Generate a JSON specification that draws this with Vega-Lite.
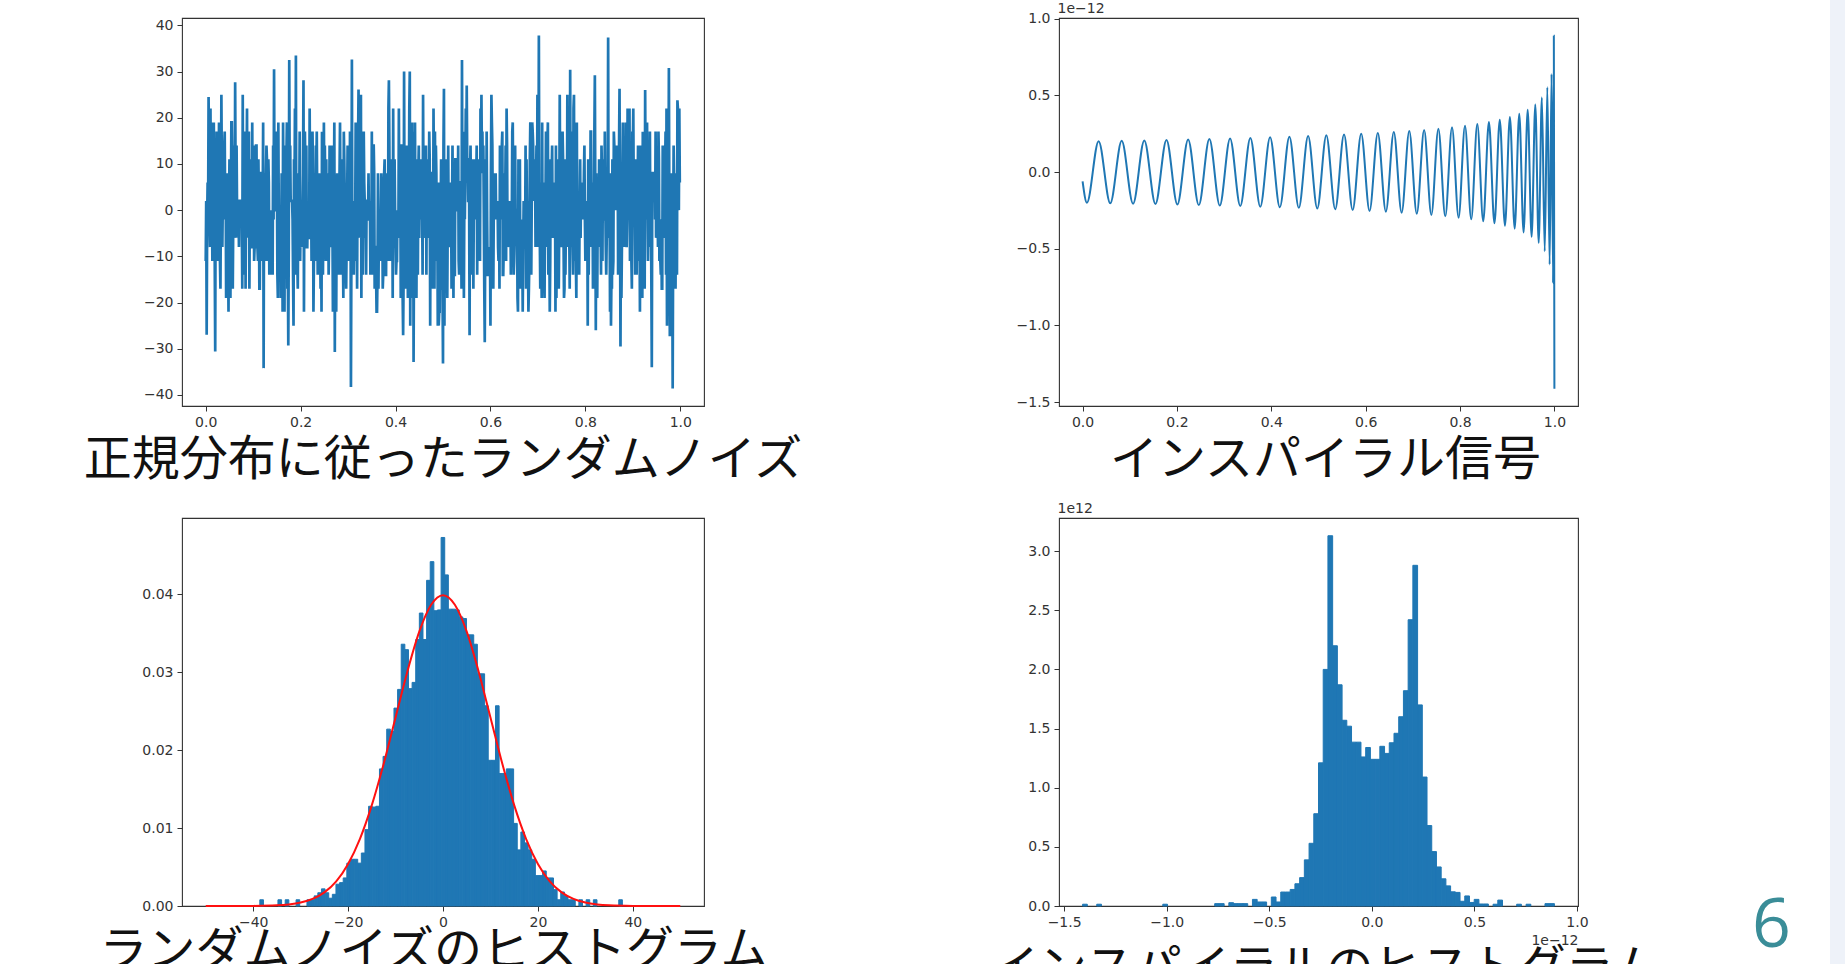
{
"$schema":"https://vega.github.io/schema/vega-lite/v6.json",
"autosize":"none",
"padding":{"left":0,"top":0,"right":1845,"bottom":964},
"background":"white",
"columns":7,
"spacing":0,
"bounds":"flush",
"align":"each",
"config":{
 "font":"DejaVu Sans",
 "view":{"stroke":null},
 "axis":{"labelFont":"DejaVu Sans","labelFontSize":14,"labelColor":"#333","tickColor":"#333","tickSize":5,"tickWidth":1,"domain":false,"grid":false,"labelPadding":4,"titleFont":"DejaVu Sans","titleFontSize":14,"titleFontWeight":"normal","titleColor":"#333"},
 "title":{"font":"Noto Sans CJK JP","fontSize":48,"fontWeight":"normal","color":"#111","orient":"bottom","anchor":"middle","baseline":"alphabetic"}
},
"datasets":{
"noise":[{"t":0,"v":-11},{"t":0.001,"v":2},{"t":0.002,"v":-27},{"t":0.003,"v":-2},{"t":0.004,"v":6},{"t":0.005,"v":-2},{"t":0.006,"v":24.5},{"t":0.007,"v":14},{"t":0.008,"v":-2},{"t":0.009,"v":-8},{"t":0.010,"v":22},{"t":0.011,"v":0},{"t":0.012,"v":19},{"t":0.013,"v":6},{"t":0.014,"v":-11},{"t":0.015,"v":2},{"t":0.016,"v":6},{"t":0.017,"v":19},{"t":0.018,"v":2},{"t":0.019,"v":-11},{"t":0.020,"v":-30.6},{"t":0.021,"v":11},{"t":0.022,"v":-6},{"t":0.023,"v":17},{"t":0.024,"v":6},{"t":0.025,"v":-2},{"t":0.026,"v":-11},{"t":0.027,"v":0},{"t":0.028,"v":19},{"t":0.029,"v":0},{"t":0.030,"v":-11},{"t":0.031,"v":-17},{"t":0.032,"v":2},{"t":0.033,"v":25},{"t":0.034,"v":8},{"t":0.035,"v":-8},{"t":0.036,"v":2},{"t":0.037,"v":8},{"t":0.038,"v":-2},{"t":0.039,"v":14},{"t":0.040,"v":17},{"t":0.041,"v":-2},{"t":0.042,"v":8},{"t":0.043,"v":-19},{"t":0.044,"v":8},{"t":0.045,"v":2},{"t":0.046,"v":8},{"t":0.047,"v":-8},{"t":0.048,"v":-22},{"t":0.049,"v":0},{"t":0.050,"v":11},{"t":0.051,"v":6},{"t":0.052,"v":-19},{"t":0.053,"v":0},{"t":0.054,"v":19},{"t":0.055,"v":19},{"t":0.056,"v":11},{"t":0.057,"v":-17},{"t":0.058,"v":-2},{"t":0.059,"v":-2},{"t":0.060,"v":14},{"t":0.061,"v":-6},{"t":0.062,"v":27.7},{"t":0.063,"v":6},{"t":0.064,"v":-6},{"t":0.065,"v":14},{"t":0.066,"v":0},{"t":0.067,"v":-2},{"t":0.068,"v":2},{"t":0.069,"v":2},{"t":0.070,"v":-8},{"t":0.071,"v":2},{"t":0.072,"v":2},{"t":0.073,"v":-2},{"t":0.074,"v":-2},{"t":0.075,"v":0},{"t":0.076,"v":-2},{"t":0.077,"v":-17},{"t":0.078,"v":25},{"t":0.079,"v":-6},{"t":0.080,"v":14},{"t":0.081,"v":-14},{"t":0.082,"v":2},{"t":0.083,"v":17},{"t":0.084,"v":-17},{"t":0.085,"v":8},{"t":0.086,"v":8},{"t":0.087,"v":22},{"t":0.088,"v":-6},{"t":0.089,"v":14},{"t":0.090,"v":-6},{"t":0.091,"v":17},{"t":0.092,"v":-17},{"t":0.093,"v":2},{"t":0.094,"v":-2},{"t":0.095,"v":11},{"t":0.096,"v":-8},{"t":0.097,"v":-8},{"t":0.098,"v":19},{"t":0.099,"v":-2},{"t":0.100,"v":2},{"t":0.101,"v":14},{"t":0.102,"v":-11},{"t":0.103,"v":-8},{"t":0.104,"v":-2},{"t":0.105,"v":6},{"t":0.106,"v":14},{"t":0.107,"v":14},{"t":0.108,"v":-8},{"t":0.109,"v":-8},{"t":0.110,"v":-11},{"t":0.111,"v":11},{"t":0.112,"v":2},{"t":0.113,"v":-17},{"t":0.114,"v":-17},{"t":0.115,"v":8},{"t":0.116,"v":8},{"t":0.117,"v":-11},{"t":0.118,"v":6},{"t":0.119,"v":8},{"t":0.120,"v":0},{"t":0.121,"v":19},{"t":0.122,"v":-34.2},{"t":0.123,"v":8},{"t":0.124,"v":-2},{"t":0.125,"v":-11},{"t":0.126,"v":-8},{"t":0.127,"v":8},{"t":0.128,"v":14},{"t":0.129,"v":11},{"t":0.130,"v":-11},{"t":0.131,"v":0},{"t":0.132,"v":11},{"t":0.133,"v":6},{"t":0.134,"v":-14},{"t":0.135,"v":0},{"t":0.136,"v":-14},{"t":0.137,"v":-8},{"t":0.138,"v":0},{"t":0.139,"v":-14},{"t":0.140,"v":-2},{"t":0.141,"v":-14},{"t":0.142,"v":14},{"t":0.143,"v":-2},{"t":0.144,"v":30.5},{"t":0.145,"v":2},{"t":0.146,"v":0},{"t":0.147,"v":0},{"t":0.148,"v":2},{"t":0.149,"v":17},{"t":0.150,"v":8},{"t":0.151,"v":-14},{"t":0.152,"v":-19},{"t":0.153,"v":19},{"t":0.154,"v":-2},{"t":0.155,"v":-2},{"t":0.156,"v":0},{"t":0.157,"v":0},{"t":0.158,"v":-19},{"t":0.159,"v":-8},{"t":0.160,"v":8},{"t":0.161,"v":2},{"t":0.162,"v":-22},{"t":0.163,"v":19},{"t":0.164,"v":0},{"t":0.165,"v":-19},{"t":0.166,"v":-22},{"t":0.167,"v":14},{"t":0.168,"v":8},{"t":0.169,"v":11},{"t":0.170,"v":11},{"t":0.171,"v":19},{"t":0.172,"v":-17},{"t":0.173,"v":-11},{"t":0.174,"v":-29.3},{"t":0.175,"v":-8},{"t":0.176,"v":32.5},{"t":0.177,"v":6},{"t":0.178,"v":14},{"t":0.179,"v":2},{"t":0.180,"v":2},{"t":0.181,"v":2},{"t":0.182,"v":2},{"t":0.183,"v":-2},{"t":0.184,"v":-14},{"t":0.185,"v":-25},{"t":0.186,"v":11},{"t":0.187,"v":2},{"t":0.188,"v":22},{"t":0.189,"v":-6},{"t":0.190,"v":33.5},{"t":0.191,"v":-14},{"t":0.192,"v":8},{"t":0.193,"v":-11},{"t":0.194,"v":-17},{"t":0.195,"v":2},{"t":0.196,"v":0},{"t":0.197,"v":0},{"t":0.198,"v":17},{"t":0.199,"v":-11},{"t":0.200,"v":-2},{"t":0.201,"v":-8},{"t":0.202,"v":2},{"t":0.203,"v":0},{"t":0.204,"v":0},{"t":0.205,"v":8},{"t":0.206,"v":28.1},{"t":0.207,"v":-22},{"t":0.208,"v":8},{"t":0.209,"v":17},{"t":0.210,"v":8},{"t":0.211,"v":0},{"t":0.212,"v":14},{"t":0.213,"v":-8},{"t":0.214,"v":-8},{"t":0.215,"v":0},{"t":0.216,"v":-2},{"t":0.217,"v":-6},{"t":0.218,"v":-6},{"t":0.219,"v":22},{"t":0.220,"v":2},{"t":0.221,"v":-2},{"t":0.222,"v":6},{"t":0.223,"v":-11},{"t":0.224,"v":6},{"t":0.225,"v":17},{"t":0.226,"v":8},{"t":0.227,"v":-22},{"t":0.228,"v":-11},{"t":0.229,"v":8},{"t":0.230,"v":2},{"t":0.231,"v":-11},{"t":0.232,"v":14},{"t":0.233,"v":8},{"t":0.234,"v":17},{"t":0.235,"v":2},{"t":0.236,"v":-14},{"t":0.237,"v":2},{"t":0.238,"v":6},{"t":0.239,"v":8},{"t":0.240,"v":0},{"t":0.241,"v":-6},{"t":0.242,"v":-17},{"t":0.243,"v":-2},{"t":0.244,"v":-22},{"t":0.245,"v":17},{"t":0.246,"v":0},{"t":0.247,"v":-14},{"t":0.248,"v":2},{"t":0.249,"v":19},{"t":0.250,"v":0},{"t":0.251,"v":14},{"t":0.252,"v":2},{"t":0.253,"v":-11},{"t":0.254,"v":11},{"t":0.255,"v":-11},{"t":0.256,"v":8},{"t":0.257,"v":0},{"t":0.258,"v":6},{"t":0.259,"v":-14},{"t":0.260,"v":-6},{"t":0.261,"v":14},{"t":0.262,"v":-8},{"t":0.263,"v":-6},{"t":0.264,"v":-6},{"t":0.265,"v":-2},{"t":0.266,"v":14},{"t":0.267,"v":-2},{"t":0.268,"v":-22},{"t":0.269,"v":6},{"t":0.270,"v":0},{"t":0.271,"v":19},{"t":0.272,"v":-30.7},{"t":0.273,"v":2},{"t":0.274,"v":-2},{"t":0.275,"v":-22},{"t":0.276,"v":2},{"t":0.277,"v":8},{"t":0.278,"v":2},{"t":0.279,"v":-11},{"t":0.280,"v":-14},{"t":0.281,"v":-2},{"t":0.282,"v":8},{"t":0.283,"v":19},{"t":0.284,"v":0},{"t":0.285,"v":-14},{"t":0.286,"v":-6},{"t":0.287,"v":11},{"t":0.288,"v":-2},{"t":0.289,"v":-8},{"t":0.290,"v":-19},{"t":0.291,"v":17},{"t":0.292,"v":11},{"t":0.293,"v":2},{"t":0.294,"v":-11},{"t":0.295,"v":-11},{"t":0.296,"v":-17},{"t":0.297,"v":-6},{"t":0.298,"v":2},{"t":0.299,"v":14},{"t":0.300,"v":0},{"t":0.301,"v":-11},{"t":0.302,"v":0},{"t":0.303,"v":-8},{"t":0.304,"v":17},{"t":0.305,"v":11},{"t":0.306,"v":-38.3},{"t":0.307,"v":-8},{"t":0.308,"v":32.6},{"t":0.309,"v":-11},{"t":0.310,"v":-8},{"t":0.311,"v":-8},{"t":0.312,"v":-14},{"t":0.313,"v":0},{"t":0.314,"v":2},{"t":0.315,"v":-2},{"t":0.316,"v":19},{"t":0.317,"v":-11},{"t":0.318,"v":-2},{"t":0.319,"v":-17},{"t":0.320,"v":8},{"t":0.321,"v":14},{"t":0.322,"v":26.1},{"t":0.323,"v":8},{"t":0.324,"v":-6},{"t":0.325,"v":11},{"t":0.326,"v":0},{"t":0.327,"v":25},{"t":0.328,"v":-19},{"t":0.329,"v":11},{"t":0.330,"v":17},{"t":0.331,"v":-14},{"t":0.332,"v":2},{"t":0.333,"v":17},{"t":0.334,"v":6},{"t":0.335,"v":2},{"t":0.336,"v":-6},{"t":0.337,"v":0},{"t":0.338,"v":-14},{"t":0.339,"v":2},{"t":0.340,"v":2},{"t":0.341,"v":2},{"t":0.342,"v":-2},{"t":0.343,"v":8},{"t":0.344,"v":-2},{"t":0.345,"v":-2},{"t":0.346,"v":2},{"t":0.347,"v":-14},{"t":0.348,"v":0},{"t":0.349,"v":-11},{"t":0.350,"v":17},{"t":0.351,"v":-14},{"t":0.352,"v":6},{"t":0.353,"v":14},{"t":0.354,"v":14},{"t":0.355,"v":8},{"t":0.356,"v":-17},{"t":0.357,"v":-8},{"t":0.358,"v":-8},{"t":0.359,"v":-14},{"t":0.360,"v":-22},{"t":0.361,"v":-22},{"t":0.362,"v":-14},{"t":0.363,"v":8},{"t":0.364,"v":-17},{"t":0.365,"v":-2},{"t":0.366,"v":-2},{"t":0.367,"v":-2},{"t":0.368,"v":-11},{"t":0.369,"v":0},{"t":0.370,"v":8},{"t":0.371,"v":2},{"t":0.372,"v":2},{"t":0.373,"v":-17},{"t":0.374,"v":-14},{"t":0.375,"v":0},{"t":0.376,"v":8},{"t":0.377,"v":11},{"t":0.378,"v":-6},{"t":0.379,"v":-14},{"t":0.380,"v":-14},{"t":0.381,"v":2},{"t":0.382,"v":8},{"t":0.383,"v":0},{"t":0.384,"v":-11},{"t":0.385,"v":22},{"t":0.386,"v":28.1},{"t":0.387,"v":14},{"t":0.388,"v":-8},{"t":0.389,"v":-11},{"t":0.390,"v":11},{"t":0.391,"v":2},{"t":0.392,"v":-8},{"t":0.393,"v":6},{"t":0.394,"v":-19},{"t":0.395,"v":22},{"t":0.396,"v":-8},{"t":0.397,"v":-2},{"t":0.398,"v":11},{"t":0.399,"v":0},{"t":0.400,"v":-8},{"t":0.401,"v":-14},{"t":0.402,"v":-11},{"t":0.403,"v":-11},{"t":0.404,"v":0},{"t":0.405,"v":-2},{"t":0.406,"v":-6},{"t":0.407,"v":22},{"t":0.408,"v":0},{"t":0.409,"v":11},{"t":0.410,"v":8},{"t":0.411,"v":-19},{"t":0.412,"v":14},{"t":0.413,"v":14},{"t":0.414,"v":14},{"t":0.415,"v":-19},{"t":0.416,"v":-27.1},{"t":0.417,"v":-14},{"t":0.418,"v":30},{"t":0.419,"v":-6},{"t":0.420,"v":0},{"t":0.421,"v":-11},{"t":0.422,"v":-17},{"t":0.423,"v":-6},{"t":0.424,"v":14},{"t":0.425,"v":2},{"t":0.426,"v":-19},{"t":0.427,"v":8},{"t":0.428,"v":2},{"t":0.429,"v":22},{"t":0.430,"v":30},{"t":0.431,"v":-25},{"t":0.432,"v":8},{"t":0.433,"v":-6},{"t":0.434,"v":-2},{"t":0.435,"v":19},{"t":0.436,"v":-19},{"t":0.437,"v":17},{"t":0.438,"v":-32.9},{"t":0.439,"v":-6},{"t":0.440,"v":-14},{"t":0.441,"v":19},{"t":0.442,"v":-11},{"t":0.443,"v":-2},{"t":0.444,"v":-19},{"t":0.445,"v":8},{"t":0.446,"v":11},{"t":0.447,"v":-14},{"t":0.448,"v":8},{"t":0.449,"v":14},{"t":0.450,"v":-6},{"t":0.451,"v":6},{"t":0.452,"v":-2},{"t":0.453,"v":11},{"t":0.454,"v":-2},{"t":0.455,"v":0},{"t":0.456,"v":2},{"t":0.457,"v":-14},{"t":0.458,"v":25},{"t":0.459,"v":0},{"t":0.460,"v":-2},{"t":0.461,"v":0},{"t":0.462,"v":6},{"t":0.463,"v":-6},{"t":0.464,"v":14},{"t":0.465,"v":-14},{"t":0.466,"v":11},{"t":0.467,"v":-6},{"t":0.468,"v":-2},{"t":0.469,"v":2},{"t":0.470,"v":0},{"t":0.471,"v":17},{"t":0.472,"v":11},{"t":0.473,"v":-25},{"t":0.474,"v":8},{"t":0.475,"v":8},{"t":0.476,"v":0},{"t":0.477,"v":8},{"t":0.478,"v":-8},{"t":0.479,"v":-17},{"t":0.480,"v":22},{"t":0.481,"v":6},{"t":0.482,"v":-17},{"t":0.483,"v":17},{"t":0.484,"v":0},{"t":0.485,"v":14},{"t":0.486,"v":8},{"t":0.487,"v":-11},{"t":0.488,"v":0},{"t":0.489,"v":-25},{"t":0.490,"v":6},{"t":0.491,"v":-25},{"t":0.492,"v":-22},{"t":0.493,"v":-22},{"t":0.494,"v":2},{"t":0.495,"v":-2},{"t":0.496,"v":11},{"t":0.497,"v":-6},{"t":0.498,"v":-17},{"t":0.499,"v":-17},{"t":0.500,"v":-33.2},{"t":0.501,"v":14},{"t":0.502,"v":26.3},{"t":0.503,"v":-25},{"t":0.504,"v":11},{"t":0.505,"v":8},{"t":0.506,"v":-8},{"t":0.507,"v":11},{"t":0.508,"v":-2},{"t":0.509,"v":-19},{"t":0.510,"v":-2},{"t":0.511,"v":14},{"t":0.512,"v":-8},{"t":0.513,"v":-2},{"t":0.514,"v":6},{"t":0.515,"v":-2},{"t":0.516,"v":2},{"t":0.517,"v":6},{"t":0.518,"v":-17},{"t":0.519,"v":0},{"t":0.520,"v":14},{"t":0.521,"v":0},{"t":0.522,"v":-19},{"t":0.523,"v":0},{"t":0.524,"v":-14},{"t":0.525,"v":-14},{"t":0.526,"v":11},{"t":0.527,"v":11},{"t":0.528,"v":11},{"t":0.529,"v":8},{"t":0.530,"v":0},{"t":0.531,"v":0},{"t":0.532,"v":14},{"t":0.533,"v":-11},{"t":0.534,"v":-14},{"t":0.535,"v":-2},{"t":0.536,"v":6},{"t":0.537,"v":6},{"t":0.538,"v":2},{"t":0.539,"v":-17},{"t":0.540,"v":32.5},{"t":0.541,"v":2},{"t":0.542,"v":-6},{"t":0.543,"v":17},{"t":0.544,"v":-19},{"t":0.545,"v":2},{"t":0.546,"v":-2},{"t":0.547,"v":8},{"t":0.548,"v":22},{"t":0.549,"v":6},{"t":0.550,"v":27},{"t":0.551,"v":11},{"t":0.552,"v":11},{"t":0.553,"v":2},{"t":0.554,"v":2},{"t":0.555,"v":6},{"t":0.556,"v":-27.1},{"t":0.557,"v":8},{"t":0.558,"v":14},{"t":0.559,"v":2},{"t":0.560,"v":-11},{"t":0.561,"v":-14},{"t":0.562,"v":8},{"t":0.563,"v":11},{"t":0.564,"v":-17},{"t":0.565,"v":2},{"t":0.566,"v":-2},{"t":0.567,"v":2},{"t":0.568,"v":11},{"t":0.569,"v":-2},{"t":0.570,"v":6},{"t":0.571,"v":14},{"t":0.572,"v":-14},{"t":0.573,"v":0},{"t":0.574,"v":11},{"t":0.575,"v":0},{"t":0.576,"v":8},{"t":0.577,"v":2},{"t":0.578,"v":-11},{"t":0.579,"v":22},{"t":0.580,"v":8},{"t":0.581,"v":25},{"t":0.582,"v":11},{"t":0.583,"v":17},{"t":0.584,"v":8},{"t":0.585,"v":14},{"t":0.586,"v":0},{"t":0.587,"v":-17},{"t":0.588,"v":-28.6},{"t":0.589,"v":-6},{"t":0.590,"v":11},{"t":0.591,"v":-8},{"t":0.592,"v":17},{"t":0.593,"v":-2},{"t":0.594,"v":-14},{"t":0.595,"v":-14},{"t":0.596,"v":-8},{"t":0.597,"v":-11},{"t":0.598,"v":-11},{"t":0.599,"v":-8},{"t":0.600,"v":-25},{"t":0.601,"v":8},{"t":0.602,"v":25},{"t":0.603,"v":19},{"t":0.604,"v":14},{"t":0.605,"v":-6},{"t":0.606,"v":-17},{"t":0.607,"v":0},{"t":0.608,"v":-2},{"t":0.609,"v":8},{"t":0.610,"v":0},{"t":0.611,"v":8},{"t":0.612,"v":-2},{"t":0.613,"v":2},{"t":0.614,"v":-2},{"t":0.615,"v":2},{"t":0.616,"v":-8},{"t":0.617,"v":-11},{"t":0.618,"v":2},{"t":0.619,"v":-17},{"t":0.620,"v":14},{"t":0.621,"v":11},{"t":0.622,"v":11},{"t":0.623,"v":-2},{"t":0.624,"v":14},{"t":0.625,"v":17},{"t":0.626,"v":-14},{"t":0.627,"v":-14},{"t":0.628,"v":-8},{"t":0.629,"v":-2},{"t":0.630,"v":8},{"t":0.631,"v":2},{"t":0.632,"v":14},{"t":0.633,"v":-11},{"t":0.634,"v":22},{"t":0.635,"v":14},{"t":0.636,"v":-8},{"t":0.637,"v":-2},{"t":0.638,"v":2},{"t":0.639,"v":-8},{"t":0.640,"v":2},{"t":0.641,"v":0},{"t":0.642,"v":0},{"t":0.643,"v":-14},{"t":0.644,"v":-2},{"t":0.645,"v":-2},{"t":0.646,"v":17},{"t":0.647,"v":19},{"t":0.648,"v":0},{"t":0.649,"v":-14},{"t":0.650,"v":-11},{"t":0.651,"v":-6},{"t":0.652,"v":14},{"t":0.653,"v":-2},{"t":0.654,"v":-2},{"t":0.655,"v":0},{"t":0.656,"v":0},{"t":0.657,"v":-19},{"t":0.658,"v":-22},{"t":0.659,"v":11},{"t":0.660,"v":-14},{"t":0.661,"v":2},{"t":0.662,"v":11},{"t":0.663,"v":-17},{"t":0.664,"v":-2},{"t":0.665,"v":-8},{"t":0.666,"v":-6},{"t":0.667,"v":-8},{"t":0.668,"v":-22},{"t":0.669,"v":-8},{"t":0.670,"v":2},{"t":0.671,"v":-2},{"t":0.672,"v":0},{"t":0.673,"v":-8},{"t":0.674,"v":14},{"t":0.675,"v":-17},{"t":0.676,"v":11},{"t":0.677,"v":0},{"t":0.678,"v":2},{"t":0.679,"v":-8},{"t":0.680,"v":-22},{"t":0.681,"v":-17},{"t":0.682,"v":-11},{"t":0.683,"v":11},{"t":0.684,"v":19},{"t":0.685,"v":11},{"t":0.686,"v":-14},{"t":0.687,"v":2},{"t":0.688,"v":19},{"t":0.689,"v":17},{"t":0.690,"v":14},{"t":0.691,"v":2},{"t":0.692,"v":6},{"t":0.693,"v":2},{"t":0.694,"v":11},{"t":0.695,"v":-8},{"t":0.696,"v":6},{"t":0.697,"v":14},{"t":0.698,"v":-2},{"t":0.699,"v":25},{"t":0.700,"v":-8},{"t":0.701,"v":-2},{"t":0.702,"v":37.8},{"t":0.703,"v":0},{"t":0.704,"v":-6},{"t":0.705,"v":-17},{"t":0.706,"v":6},{"t":0.707,"v":-8},{"t":0.708,"v":-19},{"t":0.709,"v":19},{"t":0.710,"v":-17},{"t":0.711,"v":-2},{"t":0.712,"v":6},{"t":0.713,"v":-14},{"t":0.714,"v":-19},{"t":0.715,"v":0},{"t":0.716,"v":2},{"t":0.717,"v":17},{"t":0.718,"v":-8},{"t":0.719,"v":-2},{"t":0.720,"v":14},{"t":0.721,"v":19},{"t":0.722,"v":-14},{"t":0.723,"v":-2},{"t":0.724,"v":-6},{"t":0.725,"v":-22},{"t":0.726,"v":-11},{"t":0.727,"v":11},{"t":0.728,"v":0},{"t":0.729,"v":8},{"t":0.730,"v":14},{"t":0.731,"v":-6},{"t":0.732,"v":0},{"t":0.733,"v":-6},{"t":0.734,"v":0},{"t":0.735,"v":2},{"t":0.736,"v":6},{"t":0.737,"v":-22},{"t":0.738,"v":14},{"t":0.739,"v":-19},{"t":0.740,"v":6},{"t":0.741,"v":11},{"t":0.742,"v":-2},{"t":0.743,"v":-6},{"t":0.744,"v":-17},{"t":0.745,"v":-2},{"t":0.746,"v":25},{"t":0.747,"v":2},{"t":0.748,"v":-8},{"t":0.749,"v":6},{"t":0.750,"v":-8},{"t":0.751,"v":-6},{"t":0.752,"v":17},{"t":0.753,"v":11},{"t":0.754,"v":-6},{"t":0.755,"v":-19},{"t":0.756,"v":-17},{"t":0.757,"v":11},{"t":0.758,"v":-14},{"t":0.759,"v":-2},{"t":0.760,"v":11},{"t":0.761,"v":-8},{"t":0.762,"v":25},{"t":0.763,"v":-2},{"t":0.764,"v":-6},{"t":0.765,"v":2},{"t":0.766,"v":-4},{"t":0.767,"v":-17},{"t":0.768,"v":30.4},{"t":0.769,"v":-8},{"t":0.770,"v":6},{"t":0.771,"v":-8},{"t":0.772,"v":17},{"t":0.773,"v":-8},{"t":0.774,"v":-14},{"t":0.775,"v":22},{"t":0.776,"v":25},{"t":0.777,"v":-11},{"t":0.778,"v":-8},{"t":0.779,"v":19},{"t":0.780,"v":-11},{"t":0.781,"v":-19},{"t":0.782,"v":19},{"t":0.783,"v":-11},{"t":0.784,"v":-14},{"t":0.785,"v":2},{"t":0.786,"v":2},{"t":0.787,"v":-14},{"t":0.788,"v":2},{"t":0.789,"v":11},{"t":0.790,"v":-6},{"t":0.791,"v":6},{"t":0.792,"v":0},{"t":0.793,"v":0},{"t":0.794,"v":0},{"t":0.795,"v":-2},{"t":0.796,"v":0},{"t":0.797,"v":8},{"t":0.798,"v":14},{"t":0.799,"v":-2},{"t":0.800,"v":-11},{"t":0.801,"v":2},{"t":0.802,"v":-8},{"t":0.803,"v":2},{"t":0.804,"v":0},{"t":0.805,"v":-25},{"t":0.806,"v":11},{"t":0.807,"v":-14},{"t":0.808,"v":2},{"t":0.809,"v":-2},{"t":0.810,"v":-6},{"t":0.811,"v":17},{"t":0.812,"v":17},{"t":0.813,"v":-8},{"t":0.814,"v":-2},{"t":0.815,"v":6},{"t":0.816,"v":-17},{"t":0.817,"v":6},{"t":0.818,"v":-2},{"t":0.819,"v":17},{"t":0.820,"v":29.2},{"t":0.821,"v":2},{"t":0.822,"v":-26},{"t":0.823,"v":8},{"t":0.824,"v":-11},{"t":0.825,"v":-19},{"t":0.826,"v":-2},{"t":0.827,"v":-2},{"t":0.828,"v":-6},{"t":0.829,"v":11},{"t":0.830,"v":-8},{"t":0.831,"v":2},{"t":0.832,"v":-2},{"t":0.833,"v":-14},{"t":0.834,"v":14},{"t":0.835,"v":8},{"t":0.836,"v":-11},{"t":0.837,"v":11},{"t":0.838,"v":-2},{"t":0.839,"v":-2},{"t":0.840,"v":-2},{"t":0.841,"v":17},{"t":0.842,"v":2},{"t":0.843,"v":-8},{"t":0.844,"v":-14},{"t":0.845,"v":-6},{"t":0.846,"v":0},{"t":0.847,"v":0},{"t":0.848,"v":37.4},{"t":0.849,"v":-6},{"t":0.850,"v":-2},{"t":0.851,"v":2},{"t":0.852,"v":-22},{"t":0.853,"v":8},{"t":0.854,"v":-25},{"t":0.855,"v":-14},{"t":0.856,"v":-17},{"t":0.857,"v":11},{"t":0.858,"v":-14},{"t":0.859,"v":-11},{"t":0.860,"v":17},{"t":0.861,"v":14},{"t":0.862,"v":6},{"t":0.863,"v":14},{"t":0.864,"v":8},{"t":0.865,"v":0},{"t":0.866,"v":2},{"t":0.867,"v":2},{"t":0.868,"v":14},{"t":0.869,"v":-14},{"t":0.870,"v":11},{"t":0.871,"v":14},{"t":0.872,"v":26.3},{"t":0.873,"v":0},{"t":0.874,"v":-29.5},{"t":0.875,"v":-2},{"t":0.876,"v":-19},{"t":0.877,"v":-8},{"t":0.878,"v":6},{"t":0.879,"v":19},{"t":0.880,"v":0},{"t":0.881,"v":2},{"t":0.882,"v":-8},{"t":0.883,"v":0},{"t":0.884,"v":-8},{"t":0.885,"v":19},{"t":0.886,"v":-2},{"t":0.887,"v":-8},{"t":0.888,"v":-2},{"t":0.889,"v":22},{"t":0.890,"v":11},{"t":0.891,"v":0},{"t":0.892,"v":17},{"t":0.893,"v":22},{"t":0.894,"v":-11},{"t":0.895,"v":-8},{"t":0.896,"v":2},{"t":0.897,"v":-11},{"t":0.898,"v":-17},{"t":0.899,"v":17},{"t":0.900,"v":14},{"t":0.901,"v":22},{"t":0.902,"v":2},{"t":0.903,"v":-2},{"t":0.904,"v":-2},{"t":0.905,"v":-14},{"t":0.906,"v":11},{"t":0.907,"v":-2},{"t":0.908,"v":-14},{"t":0.909,"v":-2},{"t":0.910,"v":2},{"t":0.911,"v":14},{"t":0.912,"v":8},{"t":0.913,"v":-11},{"t":0.914,"v":0},{"t":0.915,"v":-22},{"t":0.916,"v":14},{"t":0.917,"v":0},{"t":0.918,"v":2},{"t":0.919,"v":-8},{"t":0.920,"v":-19},{"t":0.921,"v":17},{"t":0.922,"v":14},{"t":0.923,"v":0},{"t":0.924,"v":6},{"t":0.925,"v":-17},{"t":0.926,"v":26},{"t":0.927,"v":2},{"t":0.928,"v":0},{"t":0.929,"v":-2},{"t":0.930,"v":19},{"t":0.931,"v":0},{"t":0.932,"v":-11},{"t":0.933,"v":0},{"t":0.934,"v":-2},{"t":0.935,"v":-8},{"t":0.936,"v":17},{"t":0.937,"v":-8},{"t":0.938,"v":8},{"t":0.939,"v":-14},{"t":0.940,"v":-34},{"t":0.941,"v":8},{"t":0.942,"v":8},{"t":0.943,"v":2},{"t":0.944,"v":2},{"t":0.945,"v":6},{"t":0.946,"v":8},{"t":0.947,"v":-2},{"t":0.948,"v":17},{"t":0.949,"v":-6},{"t":0.950,"v":0},{"t":0.951,"v":-6},{"t":0.952,"v":8},{"t":0.953,"v":-8},{"t":0.954,"v":17},{"t":0.955,"v":11},{"t":0.956,"v":-11},{"t":0.957,"v":-2},{"t":0.958,"v":-11},{"t":0.959,"v":-14},{"t":0.960,"v":-2},{"t":0.961,"v":-17},{"t":0.962,"v":-17},{"t":0.963,"v":14},{"t":0.964,"v":-2},{"t":0.965,"v":-6},{"t":0.966,"v":-2},{"t":0.967,"v":0},{"t":0.968,"v":8},{"t":0.969,"v":17},{"t":0.970,"v":-14},{"t":0.971,"v":22},{"t":0.972,"v":-25},{"t":0.973,"v":0},{"t":0.974,"v":2},{"t":0.975,"v":-2},{"t":0.976,"v":30.8},{"t":0.977,"v":0},{"t":0.978,"v":-27.3},{"t":0.979,"v":-2},{"t":0.980,"v":8},{"t":0.981,"v":-11},{"t":0.982,"v":-19},{"t":0.983,"v":-8},{"t":0.984,"v":-38.6},{"t":0.985,"v":-6},{"t":0.986,"v":14},{"t":0.987,"v":6},{"t":0.988,"v":0},{"t":0.989,"v":8},{"t":0.990,"v":-17},{"t":0.991,"v":6},{"t":0.992,"v":2},{"t":0.993,"v":-14},{"t":0.994,"v":23.8},{"t":0.995,"v":22},{"t":0.996,"v":2},{"t":0.997,"v":0},{"t":0.998,"v":22},{"t":0.999,"v":6},{"t":1,"v":6}],
"chirp":[{"t":0,"h":-0.06},{"t":0.0092,"h":-0.2},{"t":0.034,"h":0.202},{"t":0.0586,"h":-0.203},{"t":0.0829,"h":0.204},{"t":0.107,"h":-0.206},{"t":0.1308,"h":0.207},{"t":0.1544,"h":-0.208},{"t":0.1778,"h":0.21},{"t":0.2009,"h":-0.211},{"t":0.2237,"h":0.213},{"t":0.2463,"h":-0.215},{"t":0.2687,"h":0.216},{"t":0.2908,"h":-0.218},{"t":0.3126,"h":0.22},{"t":0.3342,"h":-0.221},{"t":0.3556,"h":0.223},{"t":0.3766,"h":-0.225},{"t":0.3974,"h":0.227},{"t":0.418,"h":-0.229},{"t":0.4383,"h":0.231},{"t":0.4583,"h":-0.233},{"t":0.478,"h":0.235},{"t":0.4974,"h":-0.237},{"t":0.5166,"h":0.24},{"t":0.5355,"h":-0.242},{"t":0.5541,"h":0.245},{"t":0.5724,"h":-0.247},{"t":0.5905,"h":0.25},{"t":0.6082,"h":-0.253},{"t":0.6257,"h":0.255},{"t":0.6428,"h":-0.258},{"t":0.6596,"h":0.262},{"t":0.6762,"h":-0.265},{"t":0.6924,"h":0.268},{"t":0.7083,"h":-0.272},{"t":0.7239,"h":0.275},{"t":0.7392,"h":-0.279},{"t":0.7541,"h":0.283},{"t":0.7687,"h":-0.288},{"t":0.783,"h":0.292},{"t":0.7969,"h":-0.297},{"t":0.8105,"h":0.302},{"t":0.8237,"h":-0.308},{"t":0.8366,"h":0.314},{"t":0.8491,"h":-0.32},{"t":0.8612,"h":0.327},{"t":0.8729,"h":-0.334},{"t":0.8842,"h":0.341},{"t":0.8952,"h":-0.35},{"t":0.9057,"h":0.359},{"t":0.9158,"h":-0.369},{"t":0.9255,"h":0.38},{"t":0.9347,"h":-0.393},{"t":0.9434,"h":0.407},{"t":0.9517,"h":-0.422},{"t":0.9595,"h":0.441},{"t":0.9667,"h":-0.461},{"t":0.9734,"h":0.486},{"t":0.9795,"h":-0.516},{"t":0.985,"h":0.554},{"t":0.9899,"h":-0.603},{"t":0.9939,"h":0.64},{"t":0.9972,"h":-0.724},{"t":0.9988,"h":0.89},{"t":1,"h":-1.413}],
"noiseHist":[{"a":-38.6,"b":-37.836,"d":0.0008},{"a":-34.78,"b":-34.016,"d":0.0008},{"a":-33.252,"b":-32.488,"d":0.0008},{"a":-30.96,"b":-30.196,"d":0.0008},{"a":-28.668,"b":-27.904,"d":0.0008},{"a":-27.904,"b":-27.14,"d":0.0008},{"a":-27.14,"b":-26.376,"d":0.0013},{"a":-26.376,"b":-25.612,"d":0.0017},{"a":-25.612,"b":-24.848,"d":0.0022},{"a":-24.848,"b":-24.084,"d":0.0017},{"a":-24.084,"b":-23.32,"d":0.001},{"a":-23.32,"b":-22.556,"d":0.0015},{"a":-22.556,"b":-21.792,"d":0.0028},{"a":-21.792,"b":-21.028,"d":0.003},{"a":-21.028,"b":-20.264,"d":0.0036},{"a":-20.264,"b":-19.5,"d":0.0055},{"a":-19.5,"b":-18.736,"d":0.006},{"a":-18.736,"b":-17.972,"d":0.006},{"a":-17.972,"b":-17.208,"d":0.0055},{"a":-17.208,"b":-16.444,"d":0.0068},{"a":-16.444,"b":-15.68,"d":0.0098},{"a":-15.68,"b":-14.916,"d":0.0128},{"a":-14.916,"b":-14.152,"d":0.0127},{"a":-14.152,"b":-13.388,"d":0.0128},{"a":-13.388,"b":-12.624,"d":0.0176},{"a":-12.624,"b":-11.86,"d":0.0192},{"a":-11.86,"b":-11.096,"d":0.0227},{"a":-11.096,"b":-10.332,"d":0.0224},{"a":-10.332,"b":-9.568,"d":0.0254},{"a":-9.568,"b":-8.804,"d":0.0278},{"a":-8.804,"b":-8.04,"d":0.0336},{"a":-8.04,"b":-7.276,"d":0.0329},{"a":-7.276,"b":-6.512,"d":0.0279},{"a":-6.512,"b":-5.748,"d":0.0287},{"a":-5.748,"b":-4.984,"d":0.0342},{"a":-4.984,"b":-4.22,"d":0.0376},{"a":-4.22,"b":-3.456,"d":0.0342},{"a":-3.456,"b":-2.692,"d":0.0418},{"a":-2.692,"b":-1.928,"d":0.0442},{"a":-1.928,"b":-1.164,"d":0.0379},{"a":-1.164,"b":-0.4,"d":0.038},{"a":-0.4,"b":0.364,"d":0.0473},{"a":0.364,"b":1.128,"d":0.0425},{"a":1.128,"b":1.892,"d":0.0381},{"a":1.892,"b":2.656,"d":0.0381},{"a":2.656,"b":3.42,"d":0.038},{"a":3.42,"b":4.184,"d":0.0371},{"a":4.184,"b":4.948,"d":0.0369},{"a":4.948,"b":5.712,"d":0.0348},{"a":5.712,"b":6.476,"d":0.0348},{"a":6.476,"b":7.24,"d":0.0336},{"a":7.24,"b":8.004,"d":0.0298},{"a":8.004,"b":8.768,"d":0.0298},{"a":8.768,"b":9.532,"d":0.0257},{"a":9.532,"b":10.296,"d":0.0187},{"a":10.296,"b":11.06,"d":0.0187},{"a":11.06,"b":11.824,"d":0.0257},{"a":11.824,"b":12.588,"d":0.017},{"a":12.588,"b":13.352,"d":0.017},{"a":13.352,"b":14.116,"d":0.0176},{"a":14.116,"b":14.88,"d":0.0176},{"a":14.88,"b":15.644,"d":0.0106},{"a":15.644,"b":16.408,"d":0.0072},{"a":16.408,"b":17.172,"d":0.0095},{"a":17.172,"b":17.936,"d":0.0081},{"a":17.936,"b":18.7,"d":0.0072},{"a":18.7,"b":19.464,"d":0.006},{"a":19.464,"b":20.228,"d":0.0039},{"a":20.228,"b":20.992,"d":0.0039},{"a":20.992,"b":21.756,"d":0.0045},{"a":21.756,"b":22.52,"d":0.0036},{"a":22.52,"b":23.284,"d":0.0036},{"a":23.284,"b":24.048,"d":0.0021},{"a":24.048,"b":24.812,"d":0.0008},{"a":24.812,"b":25.576,"d":0.0018},{"a":25.576,"b":26.34,"d":0.0013},{"a":26.34,"b":27.104,"d":0.0008},{"a":27.104,"b":27.868,"d":0.0008},{"a":28.632,"b":29.396,"d":0.0008},{"a":30.16,"b":30.924,"d":0.0008},{"a":31.688,"b":32.452,"d":0.0008},{"a":37.036,"b":37.8,"d":0.0008}],
"normalFit":[{"x":-50,"p":0},{"x":-45,"p":0},{"x":-40,"p":0.0000134},{"x":-35,"p":0.0000873},{"x":-32.5,"p":0.000203},{"x":-30,"p":0.000443},{"x":-27.5,"p":0.000909},{"x":-25,"p":0.00175},{"x":-22.5,"p":0.00317},{"x":-20,"p":0.0054},{"x":-17.5,"p":0.00863},{"x":-15,"p":0.01295},{"x":-12.5,"p":0.01826},{"x":-10,"p":0.0242},{"x":-7.5,"p":0.03011},{"x":-5,"p":0.03521},{"x":-2.5,"p":0.03866},{"x":0,"p":0.03989},{"x":2.5,"p":0.03866},{"x":5,"p":0.03521},{"x":7.5,"p":0.03011},{"x":10,"p":0.0242},{"x":12.5,"p":0.01826},{"x":15,"p":0.01295},{"x":17.5,"p":0.00863},{"x":20,"p":0.0054},{"x":22.5,"p":0.00317},{"x":25,"p":0.00175},{"x":27.5,"p":0.000909},{"x":30,"p":0.000443},{"x":32.5,"p":0.000203},{"x":35,"p":0.0000873},{"x":40,"p":0.0000134},{"x":45,"p":0},{"x":50,"p":0}],
"chirpHist":[{"a":-1.41,"b":-1.387,"d":0.015},{"a":-1.341,"b":-1.318,"d":0.015},{"a":-1.019,"b":-0.996,"d":0.015},{"a":-0.766,"b":-0.743,"d":0.02},{"a":-0.743,"b":-0.72,"d":0.02},{"a":-0.697,"b":-0.674,"d":0.028},{"a":-0.674,"b":-0.651,"d":0.02},{"a":-0.651,"b":-0.628,"d":0.02},{"a":-0.628,"b":-0.605,"d":0.02},{"a":-0.582,"b":-0.559,"d":0.056},{"a":-0.559,"b":-0.536,"d":0.034},{"a":-0.536,"b":-0.513,"d":0.034},{"a":-0.49,"b":-0.467,"d":0.076},{"a":-0.467,"b":-0.444,"d":0.034},{"a":-0.444,"b":-0.421,"d":0.118},{"a":-0.421,"b":-0.398,"d":0.118},{"a":-0.398,"b":-0.375,"d":0.14},{"a":-0.375,"b":-0.352,"d":0.188},{"a":-0.352,"b":-0.329,"d":0.24},{"a":-0.329,"b":-0.306,"d":0.39},{"a":-0.306,"b":-0.283,"d":0.53},{"a":-0.283,"b":-0.26,"d":0.78},{"a":-0.26,"b":-0.237,"d":1.21},{"a":-0.237,"b":-0.214,"d":2.0},{"a":-0.214,"b":-0.191,"d":3.13},{"a":-0.191,"b":-0.168,"d":2.2},{"a":-0.168,"b":-0.145,"d":1.87},{"a":-0.145,"b":-0.122,"d":1.57},{"a":-0.122,"b":-0.099,"d":1.52},{"a":-0.099,"b":-0.076,"d":1.385},{"a":-0.076,"b":-0.053,"d":1.385},{"a":-0.053,"b":-0.03,"d":1.26},{"a":-0.03,"b":-0.007,"d":1.34},{"a":-0.007,"b":0.016,"d":1.24},{"a":0.016,"b":0.039,"d":1.24},{"a":0.039,"b":0.062,"d":1.35},{"a":0.062,"b":0.085,"d":1.29},{"a":0.085,"b":0.108,"d":1.38},{"a":0.108,"b":0.131,"d":1.46},{"a":0.131,"b":0.154,"d":1.6},{"a":0.154,"b":0.177,"d":1.82},{"a":0.177,"b":0.2,"d":2.42},{"a":0.2,"b":0.223,"d":2.88},{"a":0.223,"b":0.246,"d":1.7},{"a":0.246,"b":0.269,"d":1.09},{"a":0.269,"b":0.292,"d":0.68},{"a":0.292,"b":0.315,"d":0.46},{"a":0.315,"b":0.338,"d":0.33},{"a":0.338,"b":0.361,"d":0.23},{"a":0.361,"b":0.384,"d":0.17},{"a":0.384,"b":0.407,"d":0.12},{"a":0.407,"b":0.43,"d":0.115},{"a":0.43,"b":0.453,"d":0.04},{"a":0.453,"b":0.476,"d":0.085},{"a":0.476,"b":0.499,"d":0.03},{"a":0.499,"b":0.522,"d":0.056},{"a":0.522,"b":0.545,"d":0.017},{"a":0.545,"b":0.568,"d":0.017},{"a":0.591,"b":0.614,"d":0.015},{"a":0.614,"b":0.637,"d":0.05},{"a":0.706,"b":0.729,"d":0.015},{"a":0.752,"b":0.775,"d":0.015},{"a":0.844,"b":0.867,"d":0.02},{"a":0.867,"b":0.89,"d":0.02}],
"page":[{"label":"6"}]
},
"concat":[
{"width":182,"height":18,"data":{"values":[]},"mark":"point"},
{"width":522,"height":18,"data":{"values":[]},"mark":"point"},
{"width":355,"height":18,"data":{"values":[]},"mark":"point"},
{"width":519,"height":18,"data":{"values":[]},"mark":"point"},
{"width":135,"height":18,"data":{"values":[]},"mark":"point"},
{"width":117,"height":18,"data":{"values":[]},"mark":"point"},
{"width":15,"height":18,"view":{"fill":"#eef2f9","stroke":null},"data":{"values":[]},"mark":"point"},

{"width":182,"height":388,"data":{"values":[]},"mark":"point"},
{"width":522,"height":388,"view":{"stroke":"#333","strokeWidth":1.1},
 "title":{"text":"正規分布に従ったランダムノイズ","offset":8},
 "data":{"name":"noise"},
 "mark":{"type":"line","color":"#1f77b4","strokeWidth":2.7},
 "encoding":{
  "x":{"field":"t","type":"quantitative","scale":{"domain":[-0.05,1.05],"nice":false,"zero":false},"axis":{"values":[0,0.2,0.4,0.6,0.8,1],"format":".1f","title":null}},
  "y":{"field":"v","type":"quantitative","scale":{"domain":[-42.4,41.6],"nice":false,"zero":false},"axis":{"values":[-40,-30,-20,-10,0,10,20,30,40],"format":"d","title":null}}}},
{"width":355,"height":388,"data":{"values":[]},"mark":"point"},
{"width":519,"height":388,"view":{"stroke":"#333","strokeWidth":1.1},
 "title":{"text":"インスパイラル信号","offset":8,"dx":7},
 "data":{"name":"chirp"},
 "mark":{"type":"line","color":"#1f77b4","strokeWidth":2,"interpolate":"monotone"},
 "encoding":{
  "x":{"field":"t","type":"quantitative","scale":{"domain":[-0.05,1.05],"nice":false,"zero":false},"axis":{"values":[0,0.2,0.4,0.6,0.8,1],"format":".1f","title":null}},
  "y":{"field":"h","type":"quantitative","scale":{"domain":[-1.525,1.005],"nice":false,"zero":false},"axis":{"values":[-1.5,-1,-0.5,0,0.5,1],"format":".1f","title":"1e−12","titleAngle":0,"titleAlign":"left","titleBaseline":"alphabetic","titleX":-2,"titleY":-6}}}},
{"width":135,"height":388,"data":{"values":[]},"mark":"point"},
{"width":117,"height":388,"data":{"values":[]},"mark":"point"},
{"width":15,"height":388,"view":{"fill":"#eef2f9","stroke":null},"data":{"values":[]},"mark":"point"},

{"width":182,"height":112,"data":{"values":[]},"mark":"point"},
{"width":522,"height":112,"data":{"values":[]},"mark":"point"},
{"width":355,"height":112,"data":{"values":[]},"mark":"point"},
{"width":519,"height":112,"data":{"values":[]},"mark":"point"},
{"width":135,"height":112,"data":{"values":[]},"mark":"point"},
{"width":117,"height":112,"data":{"values":[]},"mark":"point"},
{"width":15,"height":112,"view":{"fill":"#eef2f9","stroke":null},"data":{"values":[]},"mark":"point"},

{"width":182,"height":388,"data":{"values":[]},"mark":"point"},
{"width":522,"height":388,"view":{"stroke":"#333","strokeWidth":1.1},
 "title":{"text":"ランダムノイズのヒストグラム","offset":-1,"dx":-9},
 "layer":[
  {"data":{"name":"noiseHist"},
   "mark":{"type":"rect","color":"#1f77b4","stroke":"#1f77b4","strokeWidth":1},
   "encoding":{
    "x":{"field":"a","type":"quantitative","scale":{"domain":[-55,55],"nice":false,"zero":false},"axis":{"values":[-40,-20,0,20,40],"format":"d","title":null}},
    "x2":{"field":"b"},
    "y":{"field":"d","type":"quantitative","scale":{"domain":[0,0.0498],"nice":false,"zero":false},"axis":{"values":[0,0.01,0.02,0.03,0.04],"format":".2f","title":null}},
    "y2":{"datum":0}}},
  {"data":{"name":"normalFit"},
   "mark":{"type":"line","color":"#ff1010","strokeWidth":2,"interpolate":"monotone"},
   "encoding":{
    "x":{"field":"x","type":"quantitative"},
    "y":{"field":"p","type":"quantitative"}}}
 ]},
{"width":355,"height":388,"data":{"values":[]},"mark":"point"},
{"width":519,"height":388,"view":{"stroke":"#333","strokeWidth":1.1},
 "title":{"text":"インスパイラルのヒストグラム","offset":-1,"dx":7},
 "data":{"name":"chirpHist"},
 "mark":{"type":"rect","color":"#1f77b4","stroke":"#1f77b4","strokeWidth":1},
 "encoding":{
  "x":{"field":"a","type":"quantitative","scale":{"domain":[-1.525,1.005],"nice":false,"zero":false},"axis":{"values":[-1.5,-1,-0.5,0,0.5,1],"format":".1f","title":"1e−12","titleAngle":0,"titleAlign":"right","titleBaseline":"alphabetic","titleX":519,"titleY":38}},
  "x2":{"field":"b"},
  "y":{"field":"d","type":"quantitative","scale":{"domain":[0,3.28],"nice":false,"zero":false},"axis":{"values":[0,0.5,1,1.5,2,2.5,3],"format":".1f","title":"1e12","titleAngle":0,"titleAlign":"left","titleBaseline":"alphabetic","titleX":-2,"titleY":-6}},
  "y2":{"datum":0}}},
{"width":135,"height":388,"data":{"values":[]},"mark":"point"},
{"width":117,"height":388,"data":{"values":[]},"mark":"point"},
{"width":15,"height":388,"view":{"fill":"#eef2f9","stroke":null},"data":{"values":[]},"mark":"point"},

{"width":182,"height":58,"data":{"values":[]},"mark":"point"},
{"width":522,"height":58,"data":{"values":[]},"mark":"point"},
{"width":355,"height":58,"data":{"values":[]},"mark":"point"},
{"width":519,"height":58,"data":{"values":[]},"mark":"point"},
{"width":135,"height":58,"data":{"values":[]},"mark":"point"},
{"width":117,"height":58,"data":{"name":"page"},"mark":{"type":"text","font":"Open Sans","fontSize":68,"color":"#3a8d98","dy":-8},"encoding":{"text":{"field":"label","type":"nominal"}}},
{"width":15,"height":58,"view":{"fill":"#eef2f9","stroke":null},"data":{"values":[]},"mark":"point"}
]
}
